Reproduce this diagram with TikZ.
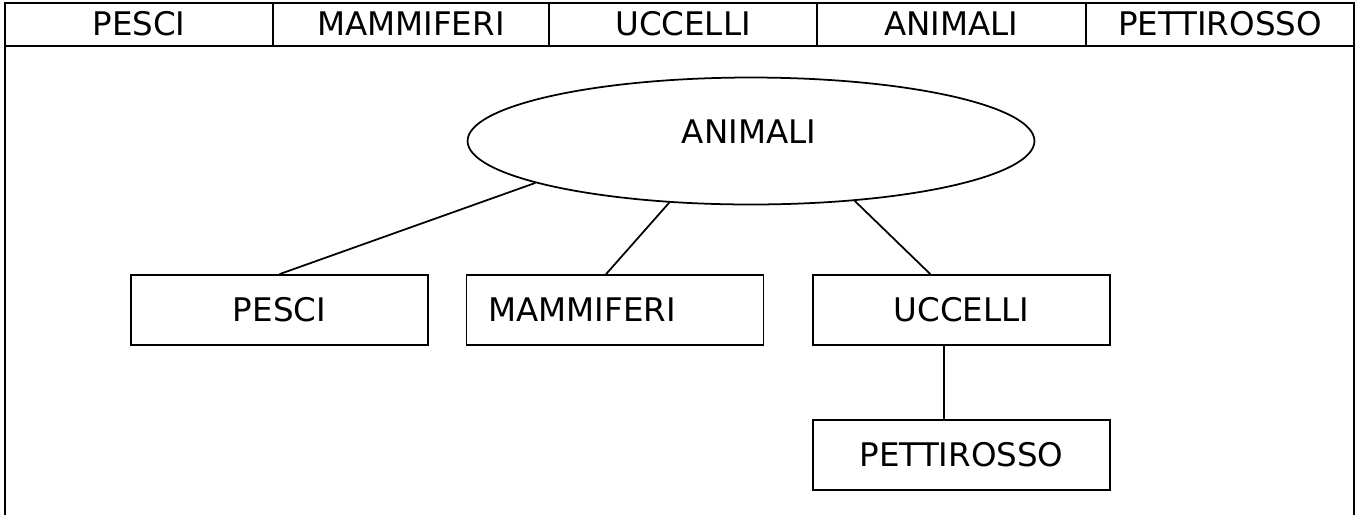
\documentclass[tikz,border=0pt]{standalone}
\usepackage{fontspec}
\setmainfont{DejaVu Sans}
\usetikzlibrary{shapes.geometric}

\tikzset{
    frame/.style={line width=1.4pt},
    box/.style={draw, line width=1pt, minimum width=5.94cm, minimum height=1.4cm},
    link/.style={line width=1pt}
}

\begin{document}
\begin{tikzpicture}[x=0.02cm, y=-0.02cm, font=\fontsize{18.5}{22}\selectfont]
        \useasboundingbox (0,0) rectangle (1357,515);

        % Header row
        \draw[frame] (5,515) -- (5,3) -- (1354,3) -- (1354,515);
        \draw[frame] (5,46) -- (1354,46);
        \foreach \x in {273,549,817,1086} {
            \draw[frame] (\x,3) -- (\x,46);
        }
        \foreach \name/\x/\txt in {hpesci/139/PESCI, hmammiferi/411/MAMMIFERI,
                hucc/683/UCCELLI, hanimali/951.5/ANIMALI, hpetti/1220/PETTIROSSO} {
            \node (\name) at (\x,24) {\txt};
        }

        % Tree
        \node[ellipse, draw, line width=1pt, minimum width=11.34cm, minimum height=2.54cm] (animali) at (751,141) {};
        \node (animalitxt) at (749,132) {ANIMALI};

        \node[box] (pesci) at (279.5,310) {PESCI};
        \node[box, text width=5.06cm, inner xsep=0.44cm, align=left] (mammiferi) at (615,310) {MAMMIFERI};
        \node[box] (uccelli) at (961.5,310) {UCCELLI};
        \node[box] (pettirosso) at (961.5,455) {PETTIROSSO};

        % Links
        \draw[link] (pesci.north) -- (animali.191);
        \draw[link] (mammiferi.104) -- (animali.217);
        \draw[link] (uccelli.131) -- (animali.330);
        \draw[link] (uccelli.244) -- (pettirosso.116);
    \end{tikzpicture}
\end{document}
